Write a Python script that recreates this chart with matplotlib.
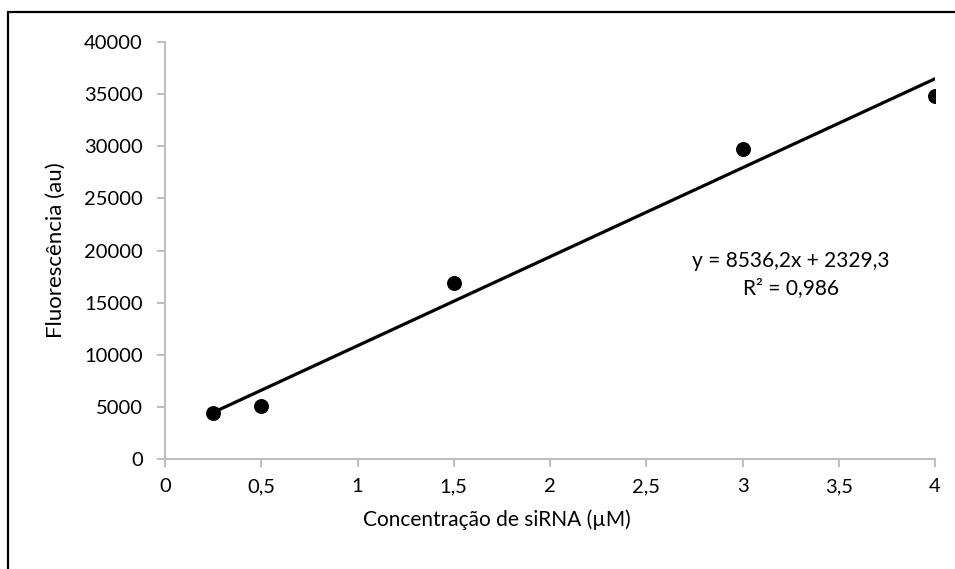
import matplotlib.pyplot as plt
from matplotlib.patches import Rectangle
import numpy as np

# Data
conc = [0.25, 0.5, 1.5, 3.0, 4.0]
fluor = [4420, 5050, 16850, 29750, 34850]

# Trendline coefficients shown in the chart
slope = 8536.2
intercept = 2329.3
r2_text = "R² = 0,986"

x_ticks = [0, 0.5, 1, 1.5, 2, 2.5, 3, 3.5, 4]
y_ticks = list(range(0, 40001, 5000))

plt.rcParams['font.family'] = ['Lato', 'DejaVu Sans']
axis_gray = '#BFBFBF'

fig = plt.figure(figsize=(9.55, 5.69), dpi=100)
ax = fig.add_axes([0.1728, 0.1933, 0.8063, 0.7329])

# trendline
xs = np.array([min(conc), max(conc)])
ax.plot(xs, slope * xs + intercept, color='black', lw=2.3, zorder=2)
ax.scatter(conc, fluor, s=95, color='black', zorder=3)

ax.set_xlim(0, 4)
ax.set_ylim(0, 40000)
ax.set_xticks(x_ticks)
ax.set_xticklabels([f"{v:g}".replace('.', ',') for v in x_ticks])
ax.set_yticks(y_ticks)
ax.set_yticklabels([str(v) for v in y_ticks])

for side in ['top', 'right']:
    ax.spines[side].set_visible(False)
for side in ['left', 'bottom']:
    ax.spines[side].set_color(axis_gray)
    ax.spines[side].set_linewidth(1.5)
ax.tick_params(axis='both', color=axis_gray, width=1.5, length=6,
               labelsize=14.5, pad=8)
ax.tick_params(axis='y', pad=10)

# Excel centres the x title on the chart area, not the plot area
ax.set_xlabel("Concentração de siRNA (µM)", fontsize=15, labelpad=10, x=0.431)
ax.set_ylabel("Fluorescência (au)", fontsize=16, labelpad=13)

eq = f"y = {slope:.1f}x + {intercept:.1f}".replace('.', ',')
ax.text(3.252, 17700, eq + "\n" + r2_text, ha='center', va='center',
        fontsize=15, linespacing=1.45)

# outer chart border (only left and top visible in the crop)
fig.patches.append(Rectangle((8 / 955, -0.1), 1.2, 1 - 12 / 569 + 0.1,
                             transform=fig.transFigure, fill=False,
                             edgecolor='black', lw=1.6))

fig.savefig('out.png', dpi=100)
